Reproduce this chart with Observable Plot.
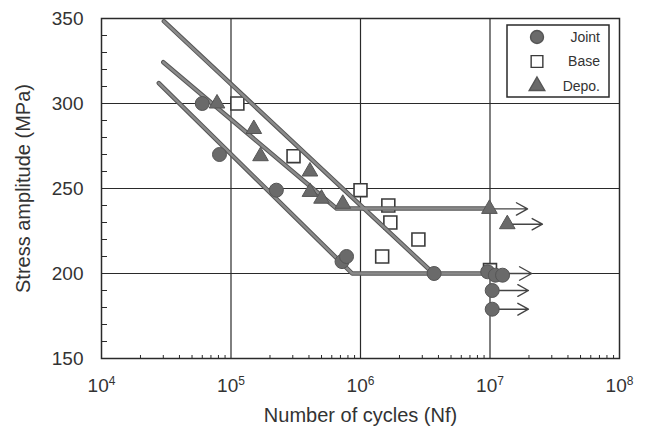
<!DOCTYPE html>
<html><head><meta charset="utf-8">
<script src="https://cdn.jsdelivr.net/npm/d3@7"></script>
<script src="https://cdn.jsdelivr.net/npm/@observablehq/plot@0.6"></script>
<style>
body{margin:0;background:#fff;}
#chart{position:relative;width:654px;height:426px;}
</style></head><body><div id="chart"></div>
<script>
// Joint (filled circles)
const jointN = [6.0e4, 8.15e4, 2.24e5, 7.2e5, 7.8e5, 3.7e6, 9.6e6, 1.1e7, 1.25e7, 1.04e7, 1.04e7];
const jointS = [300, 270, 249, 207, 210, 200, 201, 199, 199, 190, 179];
// Base (open squares)
const baseN = [1.12e5, 3.04e5, 1.0e6, 1.64e6, 1.7e6, 2.8e6, 1.47e6, 1.0e7];
const baseS = [300, 269, 249, 240, 230, 220, 210, 202];
// Depo. (filled triangles)
const depoN = [7.8e4, 1.5e5, 1.69e5, 4.07e5, 4.07e5, 5.0e5, 7.3e5, 9.9e6, 1.36e7];
const depoS = [300, 285, 269, 260, 248, 244, 241, 238, 229];

// S-N fit lines
const baseLineN = [3.03e4, 3.66e6];
const baseLineS = [348.4, 200];
const depoLineN = [3.0e4, 6.53e5, 1.0e7];
const depoLineS = [324.3, 238.2, 238.2];
const jointLineN = [2.77e4, 8.63e5, 1.0e7];
const jointLineS = [312, 200, 200];

// run-out arrows
const runFromN = [1.0e7, 1.04e7, 1.04e7, 9.9e6, 1.36e7];
const runToN   = [2.1e7, 1.98e7, 1.98e7, 1.95e7, 2.54e7];
const runS     = [200, 190, 179, 238, 229];

// ticks
const xMajor = [1e4, 1e5, 1e6, 1e7, 1e8];
const xGrid = [1e5, 1e6, 1e7];
const yMajor = [150, 200, 250, 300, 350];
const yGrid = [200, 250, 300];
const xMinor = d3.scaleLog().domain([1e4, 1e8]).ticks().filter(d => !xMajor.includes(d));
const yMinor = d3.range(160, 350, 10).filter(d => d % 50 !== 0);

const zip = (xs, ys) => xs.map((x, i) => ({x, y: ys[i]}));
const joint = zip(jointN, jointS);
const base = zip(baseN, baseS);
const depo = zip(depoN, depoS);
const lines = [
  ...zip(baseLineN, baseLineS).map(d => ({...d, s: "Base"})),
  ...zip(depoLineN, depoLineS).map(d => ({...d, s: "Depo"})),
  ...zip(jointLineN, jointLineS).map(d => ({...d, s: "Joint"}))
];
const runs = runFromN.map((x1, i) => ({x1, x2: runToN[i], y: runS[i]}));

const W = 654, H = 426, ML = 101, MR = 35, MT = 18, MB = 68;
const ink = "#2a2a2a";
const svg = Plot.plot({
  width: W, height: H,
  marginLeft: ML, marginRight: MR, marginTop: MT, marginBottom: MB,
  style: {fontFamily: '"Liberation Sans", Arial, sans-serif', fontSize: "19px", color: "#333", background: "white"},
  x: {type: "log", domain: [1e4, 1e8]},
  y: {domain: [150, 350]},
  marks: [
    Plot.gridX(xGrid, {stroke: ink, strokeOpacity: 1, strokeWidth: 1.2}),
    Plot.gridY(yGrid, {stroke: ink, strokeOpacity: 1, strokeWidth: 1.2}),
    // minor ticks pointing into the frame
    Plot.axisX({ticks: xMinor, anchor: "top", tickSize: 4, dy: H - MT - MB, tickFormat: () => "", label: null, stroke: ink}),
    Plot.axisY({ticks: yMinor, anchor: "right", tickSize: 5, dx: -(W - ML - MR), tickFormat: () => "", label: null, stroke: ink}),
    Plot.axisX({ticks: xMajor, tickSize: 0, tickPadding: 20, tickFormat: d => String(Math.round(Math.log10(d))),
      label: "Number of cycles (Nf)", labelAnchor: "center", labelArrow: "none", labelOffset: 63}),
    Plot.axisY({ticks: yMajor, tickSize: 0, tickPadding: 18,
      label: "Stress amplitude (MPa)", labelAnchor: "center", labelArrow: "none", labelOffset: 86}),
    Plot.frame({stroke: ink, strokeWidth: 1.5}),
    Plot.dot(base, {x: "x", y: "y", symbol: "square", r: 7.3, fill: "white", stroke: "#3a3a3a", strokeWidth: 1.6}),
    Plot.line(lines, {x: "x", y: "y", z: "s", stroke: "#555", strokeWidth: 4.5}),
    Plot.line(lines, {x: "x", y: "y", z: "s", stroke: "#8a8a8a", strokeWidth: 2.5}),
    Plot.arrow(runs, {x1: "x1", x2: "x2", y1: "y", y2: "y", stroke: "#444", strokeWidth: 1.4, headLength: 18, headAngle: 58}),
    Plot.dot(joint, {x: "x", y: "y", r: 7, fill: "#6a6a6a", stroke: "#555", strokeWidth: 1}),
    Plot.dot(depo, {x: "x", y: "y", symbol: "triangle", r: 5.8, fill: "#6a6a6a", stroke: "#555", strokeWidth: 1})
  ]
});

const root = d3.select(svg);
root.selectAll('g[aria-label="x-axis tick label"] text').each(function() {
  const e = this.textContent;
  if (!e) return;
  const t = d3.select(this);
  t.text("");
  t.append("tspan").text("10");
  t.append("tspan").attr("dy", "-0.6em").attr("font-size", "12px").text(e);
});
root.selectAll('g[aria-label="x-axis label"] text, g[aria-label="y-axis label"] text').attr("font-size", 20);

// legend
const lg = root.append("g").attr("transform", "translate(507,25)")
  .attr("font-family", '"Liberation Sans", Arial, sans-serif').attr("font-size", 14).attr("fill", "#333");
lg.append("rect").attr("width", 102).attr("height", 72).attr("fill", "white").attr("stroke", ink).attr("stroke-width", 1.5);
const items = [
  {label: "Joint", sym: d3.symbolCircle, r: 6.5, fill: "#6a6a6a", stroke: "#555"},
  {label: "Base", sym: d3.symbolSquare, r: 6.6, fill: "white", stroke: "#3a3a3a"},
  {label: "Depo.", sym: d3.symbolTriangle, r: 5.8, fill: "#6a6a6a", stroke: "#555"}
];
items.forEach((it, i) => {
  const cy = 12 + i * 24.5;
  lg.append("path").attr("transform", `translate(30,${cy})`)
    .attr("d", d3.symbol(it.sym, Math.PI * it.r * it.r)())
    .attr("fill", it.fill).attr("stroke", it.stroke).attr("stroke-width", 1.4);
  lg.append("text").attr("x", 93).attr("y", cy).attr("dy", "0.35em").attr("text-anchor", "end").text(it.label);
});

document.getElementById("chart").append(svg);
</script></body></html>
